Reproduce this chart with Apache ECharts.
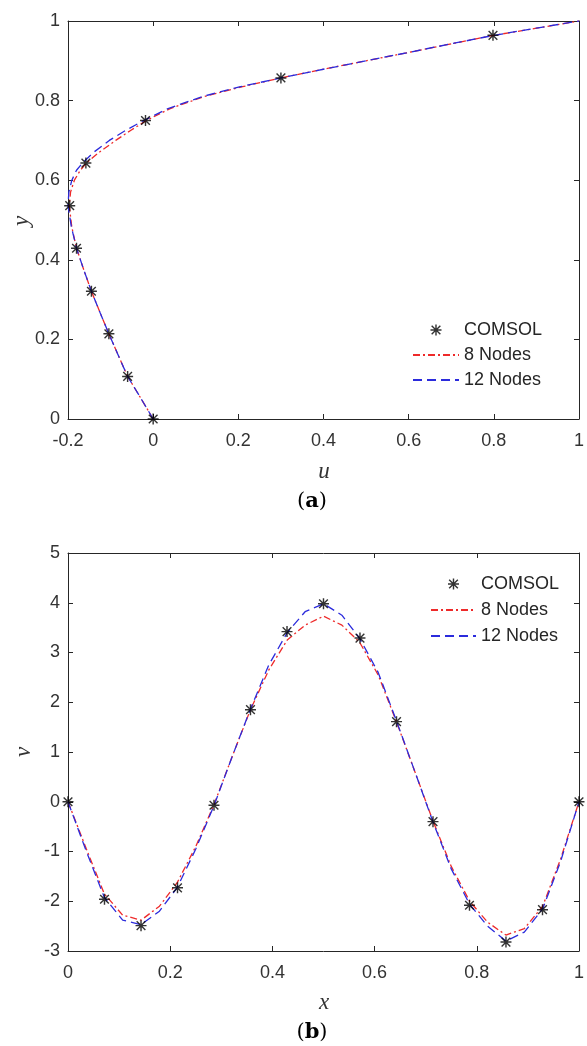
<!DOCTYPE html>
<html><head><meta charset="utf-8">
<script src="https://cdn.jsdelivr.net/npm/echarts@6/dist/echarts.min.js"></script>
<style>html,body{margin:0;padding:0;background:#fff}#c{width:587px;height:1046px}</style>
</head><body><div id="c"></div>
<script>
// ---- Panel (a): u vs y ----
const aComsolU = [0, -0.06, -0.104, -0.145, -0.18, -0.196, -0.158, -0.018, 0.3, 0.798];
const aComsolY = [0, 0.107, 0.214, 0.321, 0.429, 0.536, 0.643, 0.75, 0.857, 0.964];
const a8Y  = [0, 0.054, 0.107, 0.16, 0.214, 0.268, 0.321, 0.375, 0.429, 0.482, 0.536, 0.57, 0.6, 0.625, 0.643, 0.67, 0.7, 0.725, 0.75, 0.78, 0.81, 0.835, 0.857, 0.88, 0.9, 0.92, 0.942, 0.964, 0.982, 1];
const a8U  = [0, -0.03, -0.06, -0.082, -0.104, -0.125, -0.145, -0.163, -0.18, -0.191, -0.197, -0.194, -0.185, -0.171, -0.157, -0.127, -0.088, -0.053, -0.016, 0.04, 0.12, 0.21, 0.3, 0.405, 0.5, 0.595, 0.697, 0.8, 0.9, 1];
const a12Y = [0, 0.054, 0.107, 0.16, 0.214, 0.268, 0.321, 0.375, 0.429, 0.482, 0.536, 0.57, 0.6, 0.625, 0.643, 0.67, 0.7, 0.725, 0.75, 0.78, 0.81, 0.835, 0.857, 0.88, 0.9, 0.92, 0.942, 0.964, 0.982, 1];
const a12U = [0, -0.03, -0.06, -0.082, -0.104, -0.125, -0.145, -0.163, -0.18, -0.192, -0.2, -0.198, -0.191, -0.18, -0.166, -0.14, -0.103, -0.065, -0.022, 0.035, 0.115, 0.205, 0.3, 0.405, 0.5, 0.595, 0.697, 0.8, 0.9, 1];

// ---- Panel (b): x vs v ----
const bComsolX = [0, 0.0714, 0.1429, 0.2143, 0.2857, 0.3571, 0.4286, 0.5, 0.5714, 0.6429, 0.7143, 0.7857, 0.8571, 0.9286, 1];
const bComsolV = [0, -1.96, -2.49, -1.73, -0.07, 1.85, 3.42, 3.98, 3.29, 1.61, -0.4, -2.08, -2.82, -2.17, 0];
const bLineX = [0, 0.036, 0.071, 0.107, 0.143, 0.179, 0.214, 0.25, 0.286, 0.321, 0.357, 0.393, 0.429, 0.464, 0.5, 0.536, 0.571, 0.607, 0.643, 0.679, 0.714, 0.75, 0.786, 0.821, 0.857, 0.893, 0.929, 0.964, 1];
const b8V  = [0, -0.95, -1.85, -2.28, -2.38, -2.1, -1.62, -0.9, -0.05, 0.9, 1.85, 2.65, 3.25, 3.55, 3.73, 3.55, 3.2, 2.55, 1.6, 0.6, -0.38, -1.3, -2.0, -2.42, -2.68, -2.55, -2.1, -1.15, 0];
const b12V = [0, -1.0, -1.92, -2.38, -2.47, -2.2, -1.72, -0.95, -0.07, 0.9, 1.86, 2.75, 3.4, 3.82, 3.98, 3.75, 3.28, 2.6, 1.62, 0.6, -0.4, -1.35, -2.06, -2.5, -2.8, -2.62, -2.15, -1.2, 0];

// tick settings
const aXTicks = {min: -0.2, max: 1, interval: 0.2};
const aYTicks = {min: 0, max: 1, interval: 0.2};
const bXTicks = {min: 0, max: 1, interval: 0.2};
const bYTicks = {min: -3, max: 5, interval: 1};

const zip = (a, b) => a.map((v, i) => [v, b[i]]);
const STAR = 'path://M8.7 0H11.3V20H8.7Z M0 8.7H20V11.3H0Z M1.2 3.0L3.0 1.2L18.8 17.0L17.0 18.8Z M17.0 1.2L18.8 3.0L3.0 18.8L1.2 17.0Z';
const AX = '#262626';
const FONT = '"Liberation Sans", Arial, sans-serif';

function xAx(g, t, pos, labels) {
  return Object.assign({
    gridIndex: g, type: 'value', position: pos,
    axisLine: {show: true, onZero: false, lineStyle: {color: AX, width: 1}},
    axisTick: {show: true, inside: true, length: 5, lineStyle: {color: AX}},
    axisLabel: {show: labels, margin: 13, color: '#333', fontSize: 18, fontFamily: FONT},
    splitLine: {show: false}
  }, t);
}
function yAx(g, t, pos, labels) {
  return Object.assign({
    gridIndex: g, type: 'value', position: pos,
    axisLine: {show: true, onZero: false, lineStyle: {color: AX, width: 1}},
    axisTick: {show: true, inside: true, length: 5, lineStyle: {color: AX}},
    axisLabel: {show: labels, margin: 8, color: '#333', fontSize: 18, fontFamily: FONT},
    splitLine: {show: false}
  }, t);
}

const RED = '#ee2a2a', BLUE = '#2b2bdc';
function lineS(name, data, xi, yi, color, dash) {
  return {name, type: 'line', xAxisIndex: xi, yAxisIndex: yi, data, symbol: 'none', showSymbol: false,
    smooth: false, lineStyle: {color, width: 1.3, type: dash}, itemStyle: {color}, z: 3, animation: false};
}
function starS(data, xi, yi) {
  return {name: 'COMSOL', type: 'scatter', xAxisIndex: xi, yAxisIndex: yi, data, symbol: STAR, symbolSize: 11,
    itemStyle: {color: '#000'}, z: 5, animation: false};
}

const legendBase = {
  data: ['COMSOL', {name: '8 Nodes', itemStyle: {opacity: 0}}, {name: '12 Nodes', itemStyle: {opacity: 0}}],
  orient: 'vertical', padding: 0,
  itemHeight: 11, textStyle: {fontSize: 18, color: '#262626', fontFamily: FONT}, selectedMode: false
};

const chart = echarts.init(document.getElementById('c'), null, {renderer: 'canvas'});
chart.setOption({
  animation: false,
  backgroundColor: '#fff',
  grid: [
    {left: 68, top: 21, width: 516, height: 398},
    {left: 68, top: 553, width: 516, height: 398}
  ],
  xAxis: [
    xAx(0, aXTicks, 'bottom', true), xAx(0, aXTicks, 'top', false),
    xAx(1, bXTicks, 'bottom', true), xAx(1, bXTicks, 'top', false)
  ],
  yAxis: [
    yAx(0, aYTicks, 'left', true), yAx(0, aYTicks, 'right', false),
    yAx(1, bYTicks, 'left', true), yAx(1, bYTicks, 'right', false)
  ],
  legend: [
    Object.assign({}, legendBase, {left: 412, top: 321, itemWidth: 46, itemGap: 7}),
    Object.assign({}, legendBase, {left: 430, top: 575, itemWidth: 45, itemGap: 8})
  ],
  series: [
    lineS('8 Nodes', zip(a8U, a8Y), 0, 0, RED, [7, 3, 2, 3]),
    lineS('12 Nodes', zip(a12U, a12Y), 0, 0, BLUE, [9, 5]),
    starS(zip(aComsolU, aComsolY), 0, 0),
    lineS('8 Nodes', zip(bLineX, b8V), 2, 2, RED, [7, 3, 2, 3]),
    lineS('12 Nodes', zip(bLineX, b12V), 2, 2, BLUE, [9, 5]),
    starS(zip(bComsolX, bComsolV), 2, 2)
  ],
  graphic: [
    {type: 'text', x: 324, y: 472, style: {text: 'u', font: 'italic 23px "Liberation Serif", serif', fill: '#333', align: 'center', verticalAlign: 'middle'}},
    {type: 'text', x: 22, y: 221, rotation: Math.PI / 2, style: {text: 'y', font: 'italic 23px "Liberation Serif", serif', fill: '#333', align: 'center', verticalAlign: 'middle'}},
    {type: 'text', x: 312, y: 502, style: {text: '({b|a})', font: '21px "DejaVu Serif", serif', fill: '#000', align: 'center', verticalAlign: 'middle',
      rich: {b: {fontWeight: 'bold', fontSize: 21, fontFamily: '"DejaVu Serif", serif', fill: '#000'}}}},
    {type: 'text', x: 324, y: 1003, style: {text: 'x', font: 'italic 23px "Liberation Serif", serif', fill: '#333', align: 'center', verticalAlign: 'middle'}},
    {type: 'text', x: 24, y: 752, rotation: Math.PI / 2, style: {text: 'v', font: 'italic 23px "Liberation Serif", serif', fill: '#333', align: 'center', verticalAlign: 'middle'}},
    {type: 'text', x: 312, y: 1033, style: {text: '({b|b})', font: '21px "DejaVu Serif", serif', fill: '#000', align: 'center', verticalAlign: 'middle',
      rich: {b: {fontWeight: 'bold', fontSize: 21, fontFamily: '"DejaVu Serif", serif', fill: '#000'}}}}
  ]
});
</script></body></html>
